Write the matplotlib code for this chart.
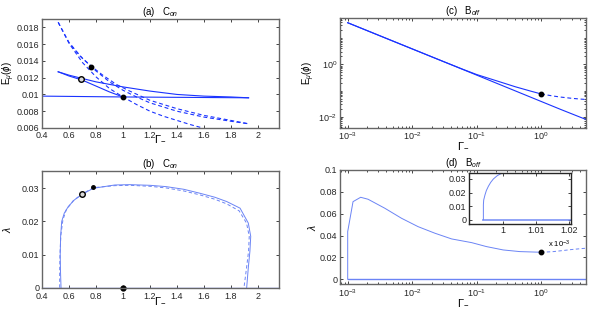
import numpy as np
import matplotlib
matplotlib.use("Agg")
import matplotlib.pyplot as plt
from matplotlib.ticker import LogLocator, NullFormatter

plt.rcParams['font.family'] = ['Liberation Sans', 'DejaVu Sans']
plt.rcParams['mathtext.fontset'] = 'custom'
plt.rcParams['mathtext.rm'] = 'Liberation Sans'
plt.rcParams['mathtext.it'] = 'Liberation Sans:italic'
plt.rcParams['font.size'] = 6.5

# ---- panel (a): C_on, E_mu vs Gamma ----
a_flat_x = [0.4, 1.0, 1.93]
a_flat_y = [0.0098, 0.0097, 0.0096]
a_up_x = [0.52, 0.6, 0.7, 0.8, 1.0, 1.2, 1.4, 1.6, 1.8, 1.93]
a_up_y = [0.0127, 0.0123, 0.0119, 0.0115, 0.0109, 0.0104, 0.0100, 0.0098, 0.0097, 0.0096]
a_low_x = [0.52, 0.6, 0.7, 0.8, 0.9, 1.0]
a_low_y = [0.0127, 0.0122, 0.0117, 0.0110, 0.0103, 0.0097]
a_d1_x = [0.52, 0.6, 0.68, 0.77, 0.85, 0.95, 1.05, 1.2, 1.4, 1.6, 1.8, 1.93]
a_d1_y = [0.0186, 0.0162, 0.0146, 0.0133, 0.0123, 0.0112, 0.0104, 0.0093, 0.0083, 0.0075, 0.0069, 0.0065]
a_d2_x = [0.62, 0.7, 0.8, 0.9, 1.0, 1.1, 1.2, 1.4, 1.6, 1.8, 1.93]
a_d2_y = [0.0158, 0.0143, 0.0128, 0.0115, 0.0105, 0.0097, 0.0090, 0.0080, 0.0073, 0.0068, 0.0065]
a_d3_x = [0.52, 0.6, 0.7, 0.8, 0.9, 1.0, 1.1, 1.2, 1.3, 1.4, 1.5, 1.59]
a_d3_y = [0.0186, 0.0161, 0.0138, 0.0121, 0.0107, 0.0097, 0.0088, 0.0080, 0.0074, 0.0069, 0.0064, 0.0060]
a_circ = (0.69, 0.0118)
a_dots_x = [0.765, 1.0]
a_dots_y = [0.0133, 0.0097]

# ---- panel (b): C_on, lambda vs Gamma ----
b_sol_x = [0.541, 0.537, 0.535, 0.538, 0.546, 0.565, 0.595, 0.64, 0.699, 0.78, 0.94, 1.05, 1.2,
           1.32, 1.45, 1.57, 1.68, 1.768, 1.867, 1.928, 1.946, 1.94, 1.928, 1.916]
b_sol_y = [0, 0.005, 0.010, 0.0155, 0.020, 0.0225, 0.0245, 0.0265, 0.0282, 0.030, 0.031, 0.0311, 0.0309,
           0.0305, 0.0297, 0.0285, 0.0273, 0.026, 0.024, 0.0195, 0.0155, 0.011, 0.006, 0]
b_dash_x = [0.531, 0.531, 0.533, 0.54, 0.555, 0.58, 0.63, 0.7, 0.785, 0.94, 1.05, 1.2, 1.32,
            1.45, 1.57, 1.68, 1.768, 1.86, 1.915, 1.935, 1.93, 1.915, 1.896]
b_dash_y = [0, 0.005, 0.010, 0.016, 0.0205, 0.0235, 0.0262, 0.0284, 0.0302, 0.0308, 0.0309, 0.0306, 0.0301,
            0.0292, 0.0280, 0.0267, 0.0253, 0.0232, 0.0195, 0.0155, 0.011, 0.006, 0]
b_base_x = [0.4, 2.155]
b_base_y = [0, 0]
b_circ = (0.693, 0.0282)
b_small = (0.78, 0.0303)
b_dot = (1.0, 0.0)

# ---- panel (c): B_off, E_mu vs Gamma (log-log) ----
c_up_x = [1e-3, 1e-2, 3e-2, 6e-2, 0.1, 0.2, 0.4, 0.7, 1.0]
c_up_y = [38, 3.86, 1.3, 0.66, 0.41, 0.24, 0.14, 0.095, 0.075]
c_low_x = [1e-3, 1e-2, 5e-2, 0.1, 0.3, 1.0, 2.0, 5.0]
c_low_y = [38, 3.86, 0.78, 0.39, 0.13, 0.039, 0.0195, 0.0080]
c_dash_x = [1.0, 1.5, 2.0, 3.0, 4.0, 5.0]
c_dash_y = [0.075, 0.063, 0.057, 0.051, 0.048, 0.046]
c_dot = (1.0, 0.075)

# ---- panel (d): B_off, lambda vs Gamma ----
d_sol_x = [1e-3, 1e-3, 1.21e-3, 1.59e-3, 2.07e-3, 3.76e-3, 6.84e-3, 0.0124, 0.0226, 0.041,
           0.084, 0.142, 0.26, 0.47, 1.0]
d_sol_y = [0, 0.0436, 0.071, 0.075, 0.0732, 0.065, 0.0558, 0.0481, 0.0421, 0.0369,
           0.0335, 0.0299, 0.0268, 0.0253, 0.0247]
d_dash_x = [1.0, 1.5, 2.0, 3.0, 4.0, 5.0]
d_dash_y = [0.0247, 0.0252, 0.026, 0.0272, 0.0279, 0.0284]
d_base_x = [1e-3, 5.0]
d_base_y = [0, 0]
d_dot = (1.0, 0.0247)
# inset (values of Gamma near 1e-3)
i_x = [0.9942e-3, 0.9942e-3, 0.9943e-3, 0.9947e-3, 0.9951e-3, 0.9957e-3, 0.9964e-3,
       0.9972e-3, 0.9984e-3, 0.9997e-3, 1.0003e-3]
i_y = [0, 0.011, 0.0145, 0.0184, 0.0215, 0.0246, 0.0275, 0.0300, 0.0325, 0.0342, 0.0350]
i_base_x = [0.9942e-3, 1.021e-3]
i_base_y = [0, 0]

blue = '#1a33ff'
lblue = '#6b84f5'
dash = (0, (3.5, 2.5))
gamma = r'$\Gamma_{-}$'


def style(ax):
    ax.tick_params(direction='in', top=True, right=True, length=2.5, width=0.6,
                   labelsize=6.5, pad=2, colors='0.15')
    ax.tick_params(which='minor', direction='in', top=True, right=True, length=1.5, width=0.5)
    for s in ax.spines.values():
        s.set_color('0.4')
        s.set_linewidth(1.0)


fig = plt.figure(figsize=(6.06, 3.09), dpi=100)

# (a)
ax = fig.add_axes([0.0693, 0.5858, 0.391, 0.3528])
ax.plot(a_flat_x, a_flat_y, color=blue, lw=0.8)
ax.plot(a_up_x, a_up_y, color=blue, lw=0.8)
ax.plot(a_low_x, a_low_y, color=blue, lw=0.8)
for xs, ys in [(a_d1_x, a_d1_y), (a_d2_x, a_d2_y), (a_d3_x, a_d3_y)]:
    ax.plot(xs, ys, color=blue, lw=0.8, ls=dash)
ax.plot(*a_circ, 'o', ms=4, mfc='0.85', mec='k', mew=1.0)
ax.plot(a_dots_x, a_dots_y, 'o', ms=3.2, color='k')
ax.set_xlim(0.4, 2.155)
ax.set_ylim(0.006, 0.019)
ax.set_xticks(np.arange(0.4, 2.01, 0.2))
ax.set_xticklabels(['0.4', '0.6', '0.8', '1', '1.2', '1.4', '1.6', '1.8', '2'])
ax.set_yticks(np.arange(0.006, 0.0181, 0.002))
ax.set_yticklabels(['0.006', '0.008', '0.01', '0.012', '0.014', '0.016', '0.018'])
ax.set_xlabel(gamma, fontsize=8, labelpad=-4)
ax.set_ylabel(r'E$_\mu$($\phi$)', fontsize=7, labelpad=0)
ax.set_title(r'(a)   C$_{on}$', fontsize=7, pad=3)
style(ax)

# (b)
ax = fig.add_axes([0.0693, 0.0689, 0.391, 0.3786])
ax.plot(b_base_x, b_base_y, color=lblue, lw=1.0)
ax.plot(b_sol_x, b_sol_y, color=lblue, lw=0.7)
ax.plot(b_dash_x, b_dash_y, color=lblue, lw=0.7, ls=dash)
ax.plot(*b_circ, 'o', ms=4, mfc='0.85', mec='k', mew=1.0)
ax.plot(*b_small, 'o', ms=2.5, color='k')
ax.plot(*b_dot, 'o', ms=3.5, color='k', clip_on=False)
ax.set_xlim(0.4, 2.155)
ax.set_ylim(0, 0.0353)
ax.set_xticks(np.arange(0.4, 2.01, 0.2))
ax.set_xticklabels(['0.4', '0.6', '0.8', '1', '1.2', '1.4', '1.6', '1.8', '2'])
ax.set_yticks([0, 0.01, 0.02, 0.03])
ax.set_yticklabels(['0', '0.01', '0.02', '0.03'])
ax.set_xlabel(gamma, fontsize=8, labelpad=-4)
ax.set_ylabel(r'$\lambda$', fontsize=7.5, labelpad=6)
ax.set_title(r'(b)   C$_{on}$', fontsize=7, pad=3)
style(ax)
ax.tick_params(axis='x', pad=3)

# (c)
ax = fig.add_axes([0.561, 0.5858, 0.406, 0.356])
ax.loglog(c_up_x, c_up_y, color=blue, lw=0.8)
ax.loglog(c_low_x, c_low_y, color=blue, lw=0.8)
ax.loglog(c_dash_x, c_dash_y, color=blue, lw=0.8, ls=dash)
ax.plot(*c_dot, 'o', ms=3.2, color='k')
ax.set_xlim(10 ** -3.12, 5.0)
ax.set_ylim(10 ** -2.42, 10 ** 1.76)
ax.set_xticks([1e-3, 1e-2, 1e-1, 1e0])
ax.set_yticks([1e-2, 1e0])
ax.xaxis.set_minor_locator(LogLocator(base=10, subs=np.arange(2, 10), numticks=20))
ax.yaxis.set_minor_locator(LogLocator(base=10, subs=np.arange(1, 10), numticks=20))
ax.xaxis.set_minor_formatter(NullFormatter())
ax.yaxis.set_minor_formatter(NullFormatter())
ax.set_xlabel(gamma, fontsize=8, labelpad=-1)
ax.set_ylabel(r'E$_\mu$($\phi$)', fontsize=7, labelpad=1)
ax.set_title(r'(c)   B$_{off}$', fontsize=7, pad=3)
style(ax)

# (d)
ax = fig.add_axes([0.561, 0.08, 0.406, 0.37])
ax.semilogx(d_base_x, d_base_y, color=lblue, lw=1.0)
ax.semilogx(d_sol_x, d_sol_y, color=lblue, lw=0.7)
ax.semilogx(d_dash_x, d_dash_y, color=lblue, lw=0.7, ls=dash)
ax.plot(*d_dot, 'o', ms=3.2, color='k')
ax.set_xlim(10 ** -3.12, 5.0)
ax.set_ylim(-0.0046, 0.1)
ax.set_xticks([1e-3, 1e-2, 1e-1, 1e0])
ax.xaxis.set_minor_locator(LogLocator(base=10, subs=np.arange(2, 10), numticks=20))
ax.xaxis.set_minor_formatter(NullFormatter())
ax.set_yticks(np.arange(0, 0.101, 0.02))
ax.set_yticklabels(['0', '0.02', '0.04', '0.06', '0.08', '0.1'])
ax.set_xlabel(gamma, fontsize=8, labelpad=-1)
ax.set_ylabel(r'$\lambda$', fontsize=7.5, labelpad=1)
ax.set_title(r'(d)   B$_{off}$', fontsize=7, pad=3)
style(ax)

# inset of (d)
axi = fig.add_axes([0.774, 0.276, 0.1683, 0.165])
axi.plot(i_base_x, i_base_y, color=lblue, lw=1.3, alpha=0.8)
axi.plot(i_x, i_y, color=lblue, lw=0.7)
axi.set_xlim(0.9899e-3, 1.0205e-3)
axi.set_ylim(-0.003, 0.0346)
axi.set_xticks([1.0e-3, 1.01e-3, 1.02e-3])
axi.set_xticklabels(['1', '1.01', '1.02'])
axi.set_yticks([0, 0.01, 0.02, 0.03])
axi.set_yticklabels(['0', '0.01', '0.02', '0.03'])
style(axi)
for s in axi.spines.values():
    s.set_color('0.15')
axi.text(0.995, -0.3, r'x 10$^{-3}$', transform=axi.transAxes, ha='right', va='top', fontsize=5.5)

fig.savefig('out.png', dpi=100)
